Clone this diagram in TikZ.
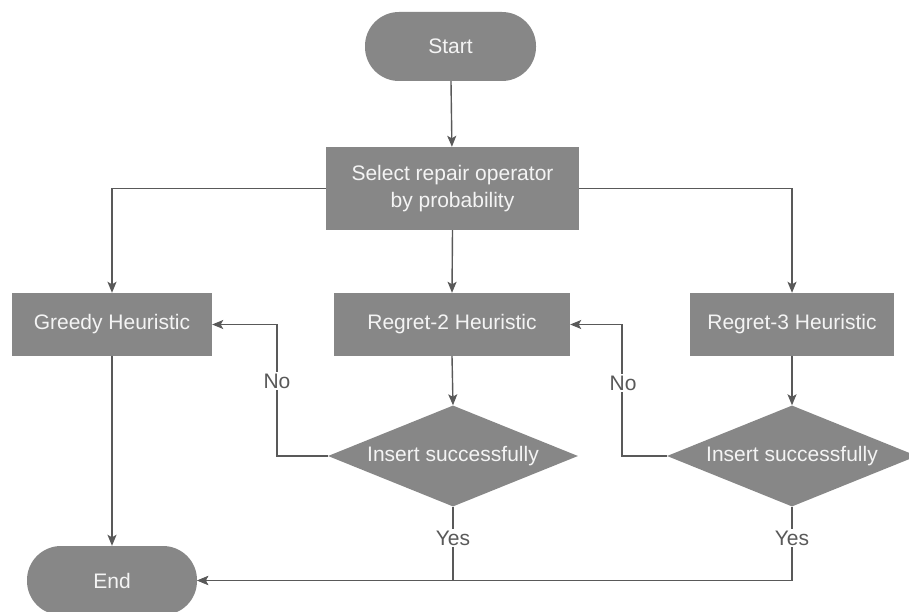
\documentclass[tikz,border=0pt]{standalone}
\usepackage{fontspec}
\setmainfont{Liberation Sans}
\usetikzlibrary{shapes.geometric,arrows.meta}
\definecolor{boxfill}{HTML}{878787}
\definecolor{linegray}{HTML}{595959}
\definecolor{boxtext}{HTML}{F4F4F4}
\begin{document}
\begin{tikzpicture}[x=1pt,y=-1pt,
  font=\fontsize{21pt}{27pt}\selectfont,
  base/.style={fill=boxfill,draw=none,text=boxtext,inner sep=0pt,align=center},
  terminal/.style={base,rectangle,rounded corners=34pt,minimum width=171pt,minimum height=69pt},
  process/.style={base,rectangle,minimum height=63pt},
  decision/.style={base,diamond,minimum width=250pt,minimum height=101pt,aspect=2.5},
  flow/.style={draw=linegray,line width=1.4pt,-{Stealth[length=11pt,width=9pt,inset=2.5pt]}},
  plain/.style={draw=linegray,line width=1.4pt},
  edgelabel/.style={fill=white,text=linegray,inner sep=2pt}]
  \fill[white] (0,0) rectangle (909,612);
  \useasboundingbox (0,0) rectangle (909,612);

  % nodes
  \node[terminal] (start) at (450.5,46.5) {Start};
  \node[process,minimum width=253pt,minimum height=83pt] (select) at (452.5,188.5)
    {Select repair operator\\by probability};
  \node[process,minimum width=200pt] (greedy) at (112,324.5) {Greedy Heuristic};
  \node[process,minimum width=236pt] (regret2) at (452,324.5) {Regret-2 Heuristic};
  \node[process,minimum width=204pt] (regret3) at (792,324.5) {Regret-3 Heuristic};
  \node[decision] (dec1) at (453,456) {Insert successfully};
  \node[decision] (dec2) at (792,456) {Insert successfully};
  \node[terminal,minimum width=170pt] (end) at (112,580.5) {End};

  % main flow
  \draw[flow] (start) -- (select);
  \draw[flow] (select.west) -| (greedy.north);
  \draw[flow] (select.east) -| (regret3.north);
  \draw[flow] (select.south) -- (regret2.north);
  \draw[flow] (greedy.south) -- (end.north);
  \draw[flow] (regret2.south) -- (dec1.north);
  \draw[flow] (regret3.south) -- (dec2.north);

  % failed insertion: fall back to the previous heuristic
  \draw[flow] (dec1.west) -- ++(-51,0) coordinate (no1) |- (greedy.east);
  \draw[flow] (dec2.west) -- ++(-45,0) coordinate (no2) |- (regret2.east);
  \node[edgelabel] at (277,381) {No};
  \node[edgelabel] at (623,383) {No};

  % successful insertion: finish
  \draw[flow] (dec1.south) |- (end.east);
  \draw[flow] (dec2.south) |- (end.east);
  \node[edgelabel] at (453,538) {Yes};
  \node[edgelabel] at (792,538) {Yes};
\end{tikzpicture}
\end{document}
